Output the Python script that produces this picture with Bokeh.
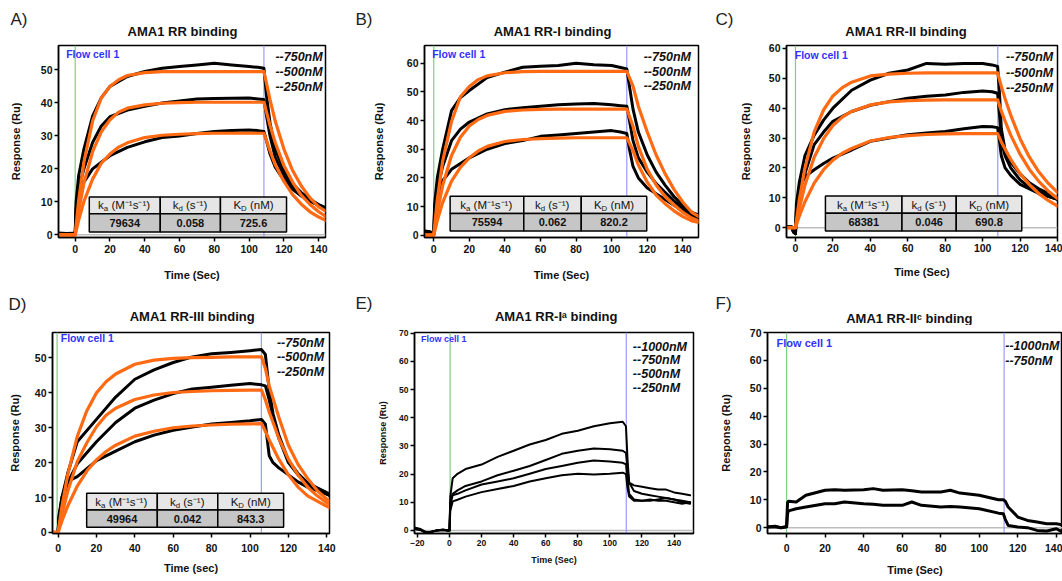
from bokeh.plotting import figure
from bokeh.layouts import column, row
from bokeh.models import Label, Span, BoxAnnotation, FixedTicker, Range1d
from bokeh.embed import file_html
from bokeh.resources import INLINE

FONT = "Liberation Sans"
ORANGE = "#ff6a13"
FLOW_BLUE = "#3232ff"

# ---------------- data ----------------
# Panel A  AMA1 RR
A_tb = [-10, -5, -1, 0, 0.5, 2, 5, 10, 15, 20, 30, 40, 50, 60, 70, 80, 90, 100, 105, 108.5,
        110, 112, 115, 120, 125, 130, 135, 140, 144]
A_750b = [0.6, 0.4, 0.5, 0.5, 10, 18, 26, 36, 41.5, 45, 48, 49.5, 50.5, 51, 51.5, 52, 51.5, 51, 50.8, 50.5,
          42, 34, 26, 19.5, 15.5, 12.8, 10.8, 9.2, 8.2]
A_500b = [0.3, 0.2, 0.3, 0.3, 8, 14, 20, 28, 33, 35.8, 37.8, 39, 40, 40.6, 41.2, 41.3, 41.4, 41.5, 41.2, 41,
          36, 30, 23.5, 18, 14.5, 12.2, 10.4, 9, 8]
A_250b = [0.2, 0.1, 0.2, 0.2, 6, 11, 16, 20, 22, 24, 26.5, 28.2, 29.5, 30, 30.7, 31.3, 31.6, 31.8, 31.6, 31.3,
          28.5, 24.5, 20.5, 16.5, 13.8, 11.8, 10.2, 8.9, 7.9]
A_tf = [-10, 0, 2, 5, 10, 15, 20, 25, 30, 40, 50, 60, 70, 80, 108.5, 112, 115, 120, 125, 130, 135, 140, 144]
A_750f = [0, 0, 10.5, 22, 34.5, 41.5, 45, 47, 48.3, 49.2, 49.5, 49.5, 49.5, 49.5, 49.5,
          41, 34.5, 26, 19.5, 14.8, 11.2, 8.5, 7.2]
A_500f = [0, 0, 7.3, 15.6, 25.2, 31.2, 34.9, 37.2, 38.4, 39.4, 39.9, 40.1, 40.2, 40.2, 40.2,
          33.2, 28, 21, 16, 12, 9.2, 7, 5.6]
A_250f = [0, 0, 4.5, 10.1, 16.9, 21.7, 24.5, 26.6, 27.9, 29.5, 30.2, 30.5, 30.7, 30.8, 30.8,
          25.5, 21.3, 16.2, 12.2, 9.3, 7, 5.4, 4.4]
A_kin = ["79634", "0.058", "725.6"]

# Panel B  AMA1 RR-I
B_tb = [-5, -2, -0.5, 0, 0.5, 2, 5, 10, 15, 20, 30, 40, 50, 60, 70, 80, 90, 100, 105, 108.5,
        110, 112, 115, 120, 125, 130, 135, 140, 145, 149]
B_750b = [1.5, 1.2, 0.5, 0.3, 11, 20, 30, 43.5, 48, 50.5, 55, 56.9, 58.6, 59, 59.2, 60, 59.5, 59.2, 58.5, 58,
          52, 44, 36, 28, 22, 17.5, 13.5, 10.5, 8, 7]
B_500b = [1.3, 1, 0.4, 0.2, 9, 16, 24, 33, 37, 39.5, 42.3, 43.8, 44.5, 45, 45.5, 45.8, 46, 45.5, 45.2, 45,
          40, 33, 27, 22, 18, 15, 12, 9.5, 7.5, 6]
B_250b = [1, 0.8, 0.3, 0.2, 7, 13, 19, 23, 25, 27, 30, 32, 33, 34.5, 35, 35.5, 36, 36.5, 36, 35.5,
          30, 24, 20, 16.5, 14.5, 12.5, 10.5, 8.5, 6.5, 5.5]
B_tf = [-5, 0, 2, 5, 10, 15, 20, 25, 30, 40, 50, 60, 70, 80, 108.5, 112, 115, 120, 125, 130, 135, 140, 145, 149]
B_750f = [0, 0, 12.4, 25.8, 39.7, 48.3, 51.9, 54.3, 55.6, 56.7, 57.1, 57.2, 57.2, 57.2, 57.2,
          52, 45, 36, 28, 21.5, 16, 11.5, 8, 6.5]
B_500f = [0, 0, 8, 17.3, 27.8, 34.2, 38.1, 40.4, 41.8, 43.2, 43.7, 43.9, 44, 44, 44,
          38, 31, 23, 17.5, 13.5, 10.5, 8, 6, 5]
B_250f = [0, 0, 5.1, 11.4, 18.9, 23.7, 27, 29.4, 31, 32.7, 33.4, 33.7, 33.9, 34, 34,
          29.5, 24.5, 18.5, 14, 11, 8.5, 6.5, 5, 4.5]
B_kin = ["75594", "0.062", "820.2"]

# Panel C  AMA1 RR-II
C_tb = [-5, -2, -1, 0, 0.5, 2, 5, 10, 15, 20, 30, 40, 50, 60, 70, 80, 90, 100, 105, 108,
        109, 110, 112, 115, 120, 125, 130, 135, 140]
C_750b = [0.2, 0.2, -1.5, -2, 8, 15, 24, 31, 36, 40, 46, 49.4, 51.7, 52.8, 55, 54.7, 55, 55, 54.5, 54,
          45, 33, 26, 22, 18, 15, 13, 11.5, 10]
C_500b = [0.2, 0.2, -1.5, -2, 6, 12, 18, 27.8, 32, 35.6, 38.9, 41, 42.2, 43.3, 44, 44.4, 45.3, 45.8, 45.5, 45,
          38, 29, 24, 20, 16, 13.5, 12, 10.5, 9.5]
C_250b = [0.2, 0.2, -1.5, -2, 5, 13, 17, 19.4, 21.5, 23.3, 26, 28.9, 30, 31.1, 31.7, 32.2, 33.1, 33.9, 33.8, 33.5,
          29, 24, 20, 17.5, 14.5, 13, 11.5, 10.5, 9.5]
C_tf = [-5, 0, 2, 5, 10, 15, 20, 25, 30, 40, 50, 60, 70, 80, 90, 108, 110, 112, 115, 120, 125, 130, 135, 140]
C_750f = [0, 0, 9.2, 19.8, 32.1, 39.4, 44.1, 46.9, 48.7, 50.8, 51.4, 51.7, 51.8, 51.8, 51.8, 51.8,
          47.3, 43.2, 37.7, 29.8, 23.6, 18.7, 14.9, 11.8]
C_500f = [0, 0, 6.3, 14.1, 23.6, 29.8, 34.2, 37, 38.9, 41.1, 42.1, 42.5, 42.7, 42.8, 42.8, 42.8,
          39, 35.7, 31, 24.6, 19.5, 15.5, 12.3, 9.8]
C_250f = [0, 0, 3.8, 8.6, 14.9, 19.4, 22.6, 24.9, 26.5, 29, 30.2, 30.8, 31.2, 31.4, 31.5, 31.5,
          28.7, 26.3, 22.9, 18.1, 14.4, 11.4, 9.1, 7.2]
C_kin = ["68381", "0.046", "690.8"]

# Panel D  AMA1 RR-III
D_tb = [-3, -1, 0, 0.5, 2, 5, 10, 20, 30, 40, 50, 60, 70, 80, 90, 100, 106,
        108, 110, 112, 115, 120, 125, 130, 135, 140, 142]
D_750b = [0, 0, 0, 5, 10, 16.9, 26, 32.4, 38.8, 43.9, 46.6, 48.7, 50.3, 51.2, 51.6, 52.1, 52.4,
          51, 40.7, 34, 27.9, 20.6, 16.9, 14.2, 12.8, 11.4, 11]
D_500b = [0, 0, 0, 4, 9, 14.2, 19.7, 26, 31.5, 35.6, 37.9, 39.8, 41.1, 41.6, 42.2, 42.7, 42.3,
          42, 38, 33, 27, 20, 16.5, 14, 12.3, 11, 10.5]
D_250b = [0, 0, 0, 4, 10, 14.6, 16, 20.6, 23.3, 26, 27.9, 29.3, 30.2, 31.1, 31.5, 32, 32.4,
          31, 22, 20, 18.5, 16.5, 14.5, 13, 12, 11, 10.5]
D_tf = [-3, 0, 2, 5, 10, 15, 20, 25, 30, 40, 50, 60, 70, 80, 90, 100, 106,
        108, 110, 115, 120, 125, 130, 135, 140, 142]
D_750f = [0, 0, 7.4, 16.4, 27.5, 34.9, 40, 43.2, 45.4, 48.2, 49.4, 49.9, 50.1, 50.2, 50.3, 50.3, 50.3,
          47, 42, 33, 25, 19.5, 15.5, 12, 9.5, 9]
D_500f = [0, 0, 5.1, 11.7, 20.3, 25.7, 30.3, 33.6, 35.6, 38.1, 39.4, 40.1, 40.4, 40.6, 40.7, 40.8, 40.8,
          38, 34.5, 27, 21, 16.5, 13, 10.5, 8.5, 8]
D_250f = [0, 0, 3.3, 7.5, 13.3, 17.6, 20.8, 23.2, 25, 27.6, 29, 30, 30.5, 30.8, 31, 31.1, 31.2,
          29, 26.5, 21, 16.5, 13, 10.5, 9, 7.5, 7]
D_kin = ["49964", "0.042", "843.3"]

# Panel E  AMA1 RR-Ia (no fit)
E_t = [-22, -18, -15, -12, -8, -4, -1, 0, 0.5, 2, 5, 10, 20, 30, 40, 50, 60, 70, 80, 90, 100, 108,
       110, 111, 112, 115, 120, 125, 130, 135, 140, 145, 150]
E_1000 = [1, 0.5, -0.5, -0.8, 0, 0.3, 0, 0, 12, 18.5, 20.1, 21.8, 23.4, 26.1, 28.3, 30.5, 32.1, 34.3, 35.4, 37, 38.1, 38.6,
          37, 25, 17, 16, 15.5, 15, 14.5, 14.5, 13.5, 13, 12.5]
E_750 = [0.8, 0.3, -0.6, -0.7, 0, 0.2, 0, 0, 10, 13, 14.2, 15.8, 17.4, 19.6, 21.2, 22.9, 25, 27.2, 28.3, 29.1, 28.8, 28.3,
         27.5, 22, 17, 14, 13, 12.5, 12, 11.5, 11, 10.5, 10]
E_500 = [0.6, 0.2, -0.7, -0.6, 0, 0.1, 0, 0, 9, 12.5, 13, 14.2, 16.3, 17.4, 18.5, 20.1, 21.8, 22.9, 24, 24.8, 24.5, 24,
         23.5, 18, 13, 11, 10.5, 10.5, 11, 11.5, 11, 10, 9.5]
E_250 = [0.5, 0.1, -0.8, -0.5, 0, 0.1, 0, 0, 7, 10.3, 10.9, 12, 13.6, 14.7, 15.8, 17.4, 18.5, 19.6, 20.1, 19.9, 20.1, 20.5,
         20, 15, 12, 10.5, 10.5, 11, 10.5, 10.5, 10, 9.5, 10]

# Panel F  AMA1 RR-IIc (no fit)
F_t = [-10, -6, -3, 0, 0.5, 1, 5, 10, 20, 25, 30, 40, 45, 50, 60, 65, 70, 80, 85, 90, 100,
       110, 112.5, 113.5, 115, 120, 125, 130, 135, 140, 143]
F_1000 = [0.2, 0.5, 0.0, 0.3, 9, 9.5, 9.2, 11.6, 13.4, 13.6, 13.4, 13.6, 14, 13.4, 13.6, 13.2, 12.8, 12.8, 13.4, 12.4, 11.6,
          10, 10, 9.5, 7.4, 3.8, 2.6, 2, 1.4, 1.4, 1]
F_750 = [0.2, 0.3, 0.0, 0.3, 5, 6, 6.8, 7.4, 8.6, 8.6, 9.2, 8.6, 8.4, 8, 8, 9.2, 8, 7.4, 7.6, 7.4, 6.8,
         5.2, 5, 3, 0.8, 0.2, 0, -1, -1.2, -0.4, -1.5]

CONC3 = ["--750nM", "--500nM", "--250nM"]
CONC4 = ["--1000nM", "--750nM", "--500nM", "--250nM"]
CONC2 = ["--1000nM", "--750nM"]
NB = "\u00a0"
HEAD = [("k", "a", NB + "(M\u207b\u00b9s\u207b\u00b9)"), ("k", "d", NB + "(s\u207b\u00b9)"), ("K", "D", NB + "(nM)")]

LETTERS = ["A)", "B)", "C)", "D)", "E)", "F)"]
TITLES = ["AMA1 RR binding", "AMA1 RR-I binding", "AMA1 RR-II binding",
          "AMA1 RR-III binding", "AMA1 RR-I\u1d43 binding", "AMA1 RR-II\u1d9c binding"]

# ---------------- layout ----------------
W = 354
H1_HEAD, H1 = 39, 251       # first row: header strip + plots
H2_HEAD, H2 = 35, 256       # second row
LETTER_POS = [(10, 19), (355, 19), (715, 19), (8, 304), (355, 303), (715, 303)]
TITLE_POS = [(182, 31), (552, 31), (905.5, 31), (191.7, 316), (555.7, 316), (908.8, 318)]

X20 = [0, 20, 40, 60, 80, 100, 120, 140]
specs = [
    dict(h=H1, bl=58, br=29, bt=6, bb=53, xr=(-9.6, 143.9), yr=(-0.8, 57.4),
         xt=X20, yt=[0, 10, 20, 30, 40, 50], tfs="10.5px", lfs="11px", xts=3, xls=13, yls=16,
         xlabel="Time (Sec)", flow=(-5.2, 54.9, "10.5px"), leg=(115.1, [53.8, 49.5, 44.7], CONC3, "12.5px"),
         green=0, blue=108.5, base=True,
         black=(A_tb, [A_750b, A_500b, A_250b]), fit=(A_tf, [A_750f, A_500f, A_250f]),
         table=((8.1, 48.9, 83.5, 121.5), (0.9, 6.4, 11.5), A_kin)),
    dict(h=H1, bl=70, br=10, bt=6, bb=53, xr=(-5.2, 148.8), yr=(-0.8, 66.2),
         xt=X20, yt=[0, 10, 20, 30, 40, 50, 60], tfs="10.5px", lfs="11px", xts=3, xls=13, yls=19,
         xlabel="Time (Sec)", flow=(-0.9, 63.3, "10.5px"), leg=(118, [62.1, 57.1, 51.9], CONC3, "12.5px"),
         green=0, blue=108.5, base=False,
         black=(B_tb, [B_750b, B_500b, B_250b]), fit=(B_tf, [B_750f, B_500f, B_250f]),
         table=((9.2, 50.6, 82.9, 119.7), (1.5, 7.6, 13.6), B_kin)),
    dict(h=H1, bl=78, br=5, bt=5, bb=53, xr=(-4.8, 140), yr=(-3.3, 61),
         xt=X20, yt=[0, 10, 20, 30, 40, 50, 60], tfs="10.5px", lfs="11px", xts=2, xls=11, yls=14,
         xlabel="Time (Sec)", flow=(-0.4, 57.8, "10.5px"), leg=(112.5, [57.2, 51.9, 46.9], CONC3, "12.5px"),
         green=0, blue=108.1, base=True,
         black=(C_tb, [C_750b, C_500b, C_250b]), fit=(C_tf, [C_750f, C_500f, C_250f]),
         table=((16, 56.9, 85.9, 120.9), (-1.1, 4.8, 10.6), C_kin)),
    dict(h=H2, bl=52, br=25, bt=4, bb=42, xr=(-2.9, 141.4), yr=(-0.3, 57.3),
         xt=X20, yt=[0, 10, 20, 30, 40, 50], tfs="10.5px", lfs="11px", xts=6, xls=7, yls=11,
         xlabel="Time (sec)", flow=(1.4, 55.7, "10.5px"), leg=(114, [54.2, 50.3, 46.1], CONC3, "12.5px"),
         green=-0.5, blue=105.9, base=False,
         black=(D_tb, [D_750b, D_500b, D_250b]), fit=(D_tf, [D_750f, D_500f, D_250f]),
         table=((14.9, 51.7, 83.2, 117.5), (1.5, 6.4, 11.2), D_kin)),
    dict(h=H2, bl=60, br=15, bt=3, bb=35, xr=(-21.8, 152.1), yr=(-1.1, 70.3),
         xt=[-20, 0, 20, 40, 60, 80, 100, 120, 140], yt=[0, 10, 20, 30, 40, 50, 60, 70],
         tfs="8.5px", lfs="9px", xts=2, xls=6, yls=8,
         xlabel="Time (Sec)", flow=(-17.7, 68.0, "9px"), leg=(114.3, [65.3, 60.4, 55.7, 50.6], CONC4, "12.5px"),
         green=0.4, blue=110.2, base=True,
         black=(E_t, [E_1000, E_750, E_500, E_250]), fit=None, table=None, lw=2),
    dict(h=H2, bl=59, br=0, bt=7, bb=48, xr=(-9.9, 143.2), yr=(-2.1, 70),
         xt=X20, yt=[0, 10, 20, 30, 40, 50, 60, 70], tfs="10.5px", lfs="11px", xts=6, xls=9, yls=15,
         xlabel="Time (Sec)", flow=(-5.2, 66.4, "11px"), leg=(113.5, [65.2, 59.9], CONC2, "12.5px"),
         green=0, blue=112.9, base=True,
         black=(F_t, [F_1000, F_750]), fit=None, table=None, lw=3),
]

WIDTHS = {'k': 0.5, 'a': 0.556, 'd': 0.556, 'D': 0.722, 'K': 0.667, ' ': 0.278, NB: 0.278, '(': 0.333,
          ')': 0.333, 'M': 0.833, 's': 0.5, 'n': 0.556, '\u207b': 0.38, '\u00b9': 0.36}


def tw(s, fs):
    return sum(WIDTHS.get(c, 0.556) for c in s) * fs


def lab(p, text, x, y, size="11px", style="normal", color="black", align="left", xo=0, yo=0):
    p.add_layout(Label(x=x, y=y, text=text, text_font=FONT, text_font_size=size,
                       text_font_style=style, text_color=color, text_align=align,
                       text_baseline="middle", x_offset=xo, y_offset=yo))


def header(y0, h, idx):
    p = figure(width=3 * W, height=h, x_range=Range1d(0, 3 * W), y_range=Range1d(y0 + h, y0),
               output_backend="svg", toolbar_location=None, tools="",
               x_axis_location=None, y_axis_location=None, min_border=0)
    p.outline_line_color = None
    p.background_fill_color = "white"
    p.border_fill_color = "white"
    for g in p.grid:
        g.visible = False
    for i in idx:
        lx, ly = LETTER_POS[i]
        lab(p, LETTERS[i], lx, ly, size="17px", color="#222222")
        tx, ty = TITLE_POS[i]
        lab(p, TITLES[i], tx, ty, size="13px", style="bold", align="center", color="#111111")
    return p


def make(s):
    p = figure(width=W, height=s["h"], x_range=Range1d(*s["xr"]), y_range=Range1d(*s["yr"]),
               output_backend="svg", toolbar_location=None, tools="",
               min_border_left=s["bl"], min_border_right=s["br"], min_border_top=s["bt"],
               min_border_bottom=s["bb"])
    p.background_fill_color = "white"
    p.border_fill_color = "white"
    p.outline_line_color = "black"
    p.outline_line_width = 1.5
    p.outline_line_alpha = 1
    p.xgrid.visible = False
    p.ygrid.visible = False
    p.xaxis.ticker = FixedTicker(ticks=s["xt"])
    p.yaxis.ticker = FixedTicker(ticks=s["yt"])
    p.xaxis.axis_label = s["xlabel"]
    p.yaxis.axis_label = "Response (Ru)"
    p.xaxis.axis_label_standoff = int(s["xls"])
    p.yaxis.axis_label_standoff = int(s["yls"])
    p.xaxis.major_label_standoff = int(s["xts"])
    p.yaxis.major_label_standoff = 2
    for ax in (p.xaxis[0], p.yaxis[0]):
        ax.axis_line_color = "black"
        ax.axis_line_width = 1.5
        ax.major_tick_in = 0
        ax.major_tick_out = 4
        ax.major_tick_line_width = 1.5
        ax.minor_tick_line_color = None
        ax.major_label_text_font = FONT
        ax.major_label_text_font_size = s["tfs"]
        ax.major_label_text_font_style = "bold"
        ax.major_label_text_color = "#111111"
        ax.axis_label_text_font = FONT
        ax.axis_label_text_font_size = s["lfs"]
        ax.axis_label_text_font_style = "bold"
        ax.axis_label_text_color = "#111111"

    if s["base"]:
        p.add_layout(Span(location=0, dimension="width", line_color="#bdbdbd", line_width=1.5, level="underlay"))
    p.add_layout(Span(location=s["green"], dimension="height", line_color="#7fcf7f", line_width=1.2, level="underlay"))
    p.add_layout(Span(location=s["blue"], dimension="height", line_color="#9a9aff", line_width=1.2, level="underlay"))

    lw = s.get("lw", 3)
    bt, bys = s["black"]
    for ys in bys:
        p.line(bt, ys, line_color="black", line_width=lw, line_join="round", line_cap="round")
    if s["fit"]:
        ft, fys = s["fit"]
        for ys in fys:
            p.line(ft, ys, line_color=ORANGE, line_width=3.2, line_join="round", line_cap="round")

    fx, fy, ffs = s["flow"]
    lab(p, "Flow cell 1", fx, fy, size=ffs, style="bold", color=FLOW_BLUE)
    lx, lys, ltxt, lfs = s["leg"]
    for t, yy in zip(ltxt, lys):
        lab(p, t, lx, yy, size=lfs, style="bold italic", color="#111111")

    if s["table"]:
        edges, (yb, ym, yt_), vals = s["table"]
        for i in range(3):
            p.add_layout(BoxAnnotation(left=edges[i], right=edges[i + 1], bottom=ym, top=yt_,
                                       fill_color="#e6e6e6", fill_alpha=1, line_color="black",
                                       line_width=1.5, line_alpha=1))
            p.add_layout(BoxAnnotation(left=edges[i], right=edges[i + 1], bottom=yb, top=ym,
                                       fill_color="#c6c6c6", fill_alpha=1, line_color="black",
                                       line_width=1.5, line_alpha=1))
        fs = 11.5
        sfs = fs * 0.68
        for i, (m, sub, rest) in enumerate(HEAD):
            cx = (edges[i] + edges[i + 1]) / 2
            cy = (ym + yt_) / 2
            total = tw(m, fs) + tw(sub, sfs) + tw(rest, fs)
            start = -total / 2
            lab(p, m, cx, cy, size="%.1fpx" % fs, xo=start, color="#111111")
            lab(p, sub, cx, cy, size="%.1fpx" % sfs, xo=start + tw(m, fs), yo=-3.5, color="#111111")
            lab(p, rest, cx, cy, size="%.1fpx" % fs, xo=start + tw(m, fs) + tw(sub, sfs), color="#111111")
            lab(p, vals[i], cx, (yb + ym) / 2, size="11px", style="bold", align="center", color="#111111")
    return p


figs = [make(s) for s in specs]
layout = column(header(0, H1_HEAD, [0, 1, 2]),
                row(figs[0], figs[1], figs[2]),
                header(H1_HEAD + H1, H2_HEAD, [3, 4, 5]),
                row(figs[3], figs[4], figs[5]))
open("out.html", "w").write(file_html(layout, INLINE))
